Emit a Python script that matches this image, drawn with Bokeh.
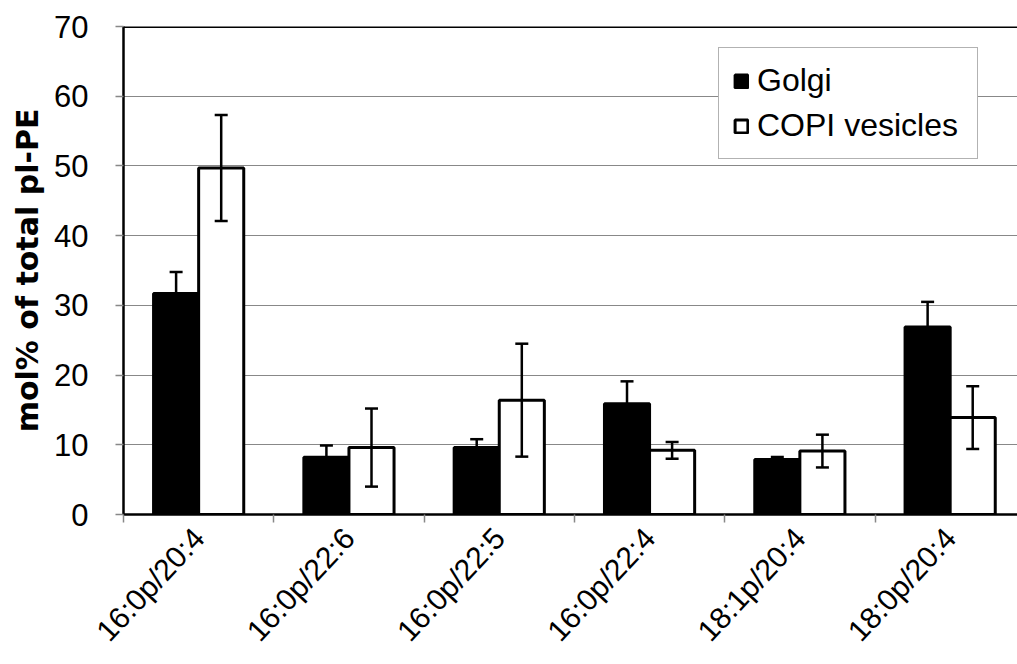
import math
from bokeh.plotting import figure
from bokeh.models import (ColumnDataSource, Whisker, TeeHead, Legend, LegendItem,
                          FixedTicker, Span, Range1d)
from bokeh.embed import file_html
from bokeh.resources import INLINE

categories = ["16:0p/20:4", "16:0p/22:6", "16:0p/22:5", "16:0p/22:4", "18:1p/20:4", "18:0p/20:4"]
golgi = [31.7, 8.2, 9.6, 15.9, 7.9, 26.9]
golgi_err = [3.1, 1.7, 1.2, 3.2, 0.35, 3.6]
copi = [49.7, 9.6, 16.4, 9.2, 9.1, 13.9]
copi_err = [7.6, 5.6, 8.1, 1.2, 2.35, 4.5]
y_ticks = [0, 10, 20, 30, 40, 50, 60, 70]

FONT = "Liberation Sans"
centers = [i + 0.5 for i in range(len(categories))]

src_g = ColumnDataSource(dict(
    x=[c - 0.15 for c in centers], top=golgi,
    upper=[v + e for v, e in zip(golgi, golgi_err)],
    lower=[v - e for v, e in zip(golgi, golgi_err)]))
src_c = ColumnDataSource(dict(
    x=[c + 0.15 for c in centers], top=copi,
    upper=[v + e for v, e in zip(copi, copi_err)],
    lower=[v - e for v, e in zip(copi, copi_err)]))

p = figure(frame_width=894, frame_height=488, output_backend="svg", toolbar_location=None,
           x_range=Range1d(0, 5.948), y_range=Range1d(0, 70),
           min_border_left=123, min_border_right=0, min_border_top=26, min_border_bottom=150)
p.outline_line_color = None
p.background_fill_color = "white"
p.border_fill_color = "white"

rg = p.vbar(x="x", top="top", width=0.3, source=src_g, fill_color="black",
            line_color="black", line_width=3)
rc = p.vbar(x="x", top="top", width=0.3, source=src_c, fill_color="white",
            line_color="black", line_width=3)

for s in (src_g, src_c):
    w = Whisker(base="x", upper="upper", lower="lower", source=s, level="overlay",
                line_color="black", line_width=2.5,
                upper_head=TeeHead(size=13, line_color="black", line_width=2.5),
                lower_head=TeeHead(size=13, line_color="black", line_width=2.5))
    p.add_layout(w)

# top border line
p.add_layout(Span(location=70, dimension="width", line_color="black", line_width=3))

# x axis
p.xaxis.ticker = FixedTicker(ticks=centers, minor_ticks=list(range(len(categories) + 1)))
p.xaxis.major_label_overrides = {c: lab for c, lab in zip(centers, categories)}
p.xaxis.major_label_orientation = math.radians(47)
p.xaxis.major_tick_in = 0
p.xaxis.major_tick_out = 0
p.xaxis.minor_tick_in = 0
p.xaxis.minor_tick_out = 8
p.xaxis.minor_tick_line_color = "#888888"
p.xaxis.minor_tick_line_width = 1.5
p.xaxis.axis_line_color = "black"
p.xaxis.axis_line_width = 2.5
p.xaxis.major_label_text_font = FONT
p.xaxis.major_label_text_font_size = "30px"
p.xaxis.major_label_text_color = "black"
p.xaxis.major_label_standoff = 10
p.xgrid.visible = False

# y axis
p.yaxis.ticker = FixedTicker(ticks=y_ticks)
p.yaxis.minor_tick_line_color = None
p.yaxis.major_tick_in = 0
p.yaxis.major_tick_out = 8
p.yaxis.major_tick_line_color = "#888888"
p.yaxis.major_tick_line_width = 1.5
p.yaxis.axis_line_color = "black"
p.yaxis.axis_line_width = 2.5
p.yaxis.major_label_text_font = FONT
p.yaxis.major_label_text_font_size = "31px"
p.yaxis.major_label_text_color = "black"
p.yaxis.major_label_standoff = 27
p.yaxis.axis_label = "mol% of total pl-PE"
p.yaxis.axis_label_text_font = "DejaVu Sans"
p.yaxis.axis_label_text_font_size = "30px"
p.yaxis.axis_label_text_font_style = "bold"
p.yaxis.axis_label_text_color = "black"
p.yaxis.axis_label_standoff = 6
p.ygrid.grid_line_color = "#888888"
p.ygrid.grid_line_width = 1.2
p.ygrid.ticker = FixedTicker(ticks=y_ticks)

legend = Legend(items=[LegendItem(label="Golgi", renderers=[rg]),
                       LegendItem(label="COPI vesicles", renderers=[rc])],
                location=(595, 355))
legend.label_text_font = FONT
legend.label_text_font_size = "32px"
legend.label_text_color = "black"
legend.glyph_width = 16
legend.glyph_height = 16
legend.label_height = 34
legend.label_width = 206
legend.label_standoff = 8
legend.spacing = 8
legend.padding = 14
legend.margin = 0
legend.border_line_color = "#666666"
legend.border_line_width = 1.5
legend.background_fill_color = "white"
legend.background_fill_alpha = 1
p.add_layout(legend)

open("out.html", "w").write(file_html(p, INLINE))
